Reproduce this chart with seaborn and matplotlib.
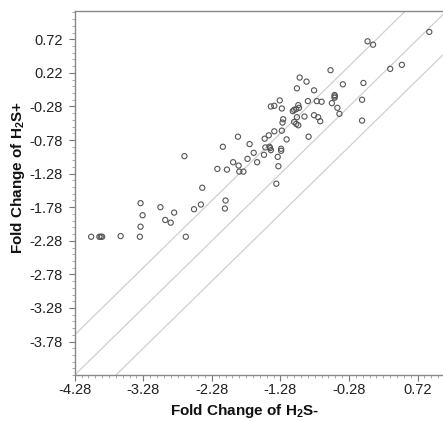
import numpy as np
import pandas as pd
import matplotlib
matplotlib.use("Agg")
import matplotlib.pyplot as plt
import seaborn as sns

# Valores (log fold change)
fc_menos = [0.89, -0.01, 0.07, 0.49, 0.32, -0.55, -0.07, -0.37, -1.00, -0.90,
            -1.04, -0.79, -0.49, -0.49, -0.49, -0.09, -1.29, -0.88, -0.75, -0.68,
            -0.53, -0.45, -0.42, -1.42, -1.37, -1.02, -1.01, -1.05, -1.08, -1.10,
            -1.26, -0.93, -0.79, -0.73, -0.70, -1.04, -1.24, -1.25, -1.08, -1.02,
            -1.05, -0.09, -1.37, -1.26, -1.45, -1.51, -1.19, -0.87, -1.90, -1.73,
            -2.12, -1.50, -1.44, -1.42, -1.43, -1.27, -1.27, -1.67, -1.52, -2.68,
            -1.32, -1.76, -1.97, -1.62, -1.89, -1.31, -2.20, -2.06, -1.88, -1.82,
            -1.34, -2.42, -2.08, -3.32, -2.44, -3.03, -2.54, -2.09, -2.83, -3.29,
            -2.96, -2.88, -3.32, -4.04, -3.92, -3.90, -3.88, -3.61, -3.33, -2.66]
fc_mas = [0.83, 0.69, 0.64, 0.34, 0.28, 0.26, 0.07, 0.05, 0.15, 0.09,
          -0.01, -0.04, -0.11, -0.13, -0.15, -0.18, -0.19, -0.20, -0.20, -0.21,
          -0.23, -0.30, -0.39, -0.28, -0.27, -0.26, -0.30, -0.32, -0.33, -0.35,
          -0.31, -0.43, -0.41, -0.44, -0.50, -0.44, -0.47, -0.52, -0.51, -0.56,
          -0.54, -0.49, -0.65, -0.64, -0.71, -0.76, -0.77, -0.73, -0.73, -0.84,
          -0.88, -0.89, -0.88, -0.93, -0.90, -0.91, -0.94, -0.97, -1.00, -1.02,
          -1.03, -1.06, -1.11, -1.11, -1.16, -1.17, -1.21, -1.22, -1.25, -1.25,
          -1.43, -1.49, -1.68, -1.72, -1.74, -1.78, -1.81, -1.80, -1.86, -1.90,
          -1.97, -2.01, -2.07, -2.22, -2.22, -2.22, -2.22, -2.21, -2.22, -2.22]

# Lineas de referencia y = x + d
desplazamientos = [-0.6, 0.0, 0.6]

xticks = [-4.28, -3.28, -2.28, -1.28, -0.28, 0.72]
yticks = [0.72, 0.22, -0.28, -0.78, -1.28, -1.78, -2.28, -2.78, -3.28, -3.78]

df = pd.DataFrame({'menos': fc_menos, 'mas': fc_mas})

sns.set_style("white")
plt.rcParams['font.family'] = ['Liberation Sans', 'DejaVu Sans']
plt.rcParams['mathtext.fontset'] = 'custom'
plt.rcParams['mathtext.rm'] = 'Liberation Sans'
plt.rcParams['mathtext.bf'] = 'Liberation Sans:bold'

fig = plt.figure(figsize=(4.43, 4.21), dpi=100)
ax = fig.add_axes([0.1686, 0.109, 0.8314, 0.8656])

for d in desplazamientos:
    ax.axline((0, d), slope=1, color='#cfcfcf', lw=0.9, zorder=1)

sns.scatterplot(data=df, x='menos', y='mas', ax=ax, marker='o', s=14,
                facecolor='none', edgecolor='#555555', linewidth=0.8, zorder=3)

ax.set_xlim(-4.28, 1.09)
ax.set_ylim(-4.28, 1.146)

ax.set_xticks(xticks)
ax.set_xticklabels([f"{t:.2f}" for t in xticks])
ax.set_yticks(yticks)
ax.set_yticklabels([f"{t:.2f}" for t in yticks])
ax.set_xticks(np.arange(-4.28, 1.09, 0.1), minor=True)
ax.set_yticks(np.arange(-4.28, 1.14, 0.1), minor=True)

ax.tick_params(axis='both', which='major', direction='out', length=4, width=0.8,
               color='#777777', labelsize=10.5, labelcolor='#222222')
ax.tick_params(axis='both', which='minor', direction='out', length=2, width=0.6,
               color='#999999')
ax.tick_params(axis='x', which='major', pad=1.5)
ax.tick_params(axis='y', which='major', pad=4.5)
ax.tick_params(bottom=True, left=True, which='both')

for lado in ['left', 'bottom', 'top']:
    ax.spines[lado].set_color('#888888')
    ax.spines[lado].set_linewidth(1.0)
ax.spines['right'].set_visible(False)

ax.set_xlabel(r"Fold Change of H$_{\mathbf{2}}$S-", fontsize=11, fontweight='bold',
              color='#111111')
ax.set_ylabel(r"Fold Change of H$_{\mathbf{2}}$S+", fontsize=11, fontweight='bold',
              color='#111111')
ax.xaxis.set_label_coords(0.462, -0.074)
ax.yaxis.set_label_coords(-0.13, 0.543)

plt.savefig("out.png", dpi=100)
